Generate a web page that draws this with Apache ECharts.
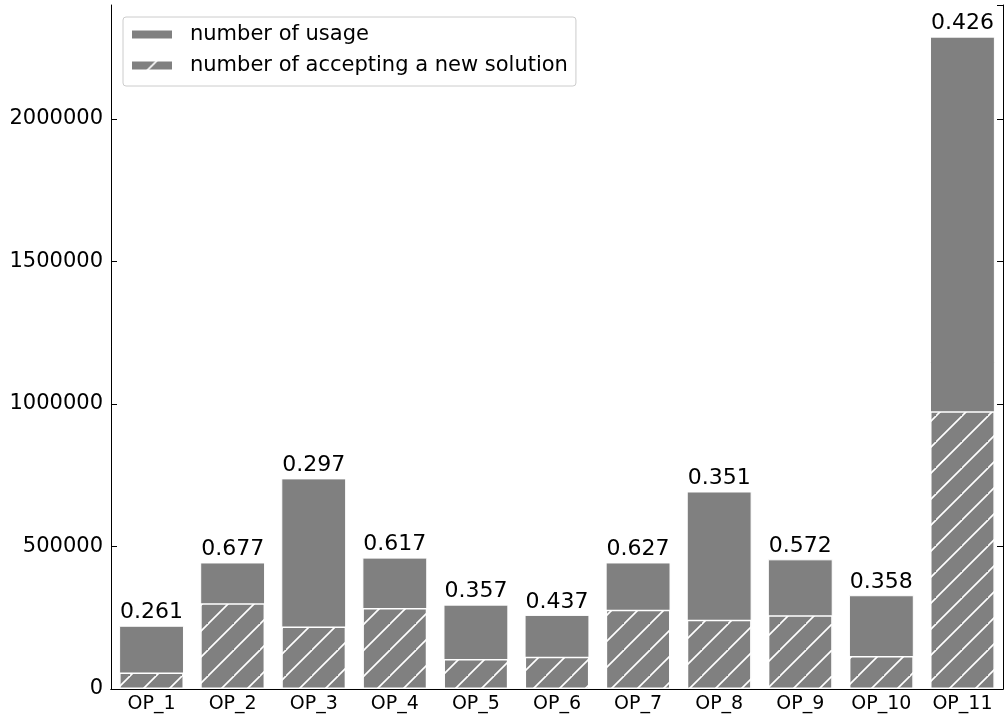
<!DOCTYPE html>
<html>
<head>
<meta charset="utf-8">
<script src="https://cdn.jsdelivr.net/npm/echarts@6/dist/echarts.min.js"></script>
<style>
html,body{margin:0;padding:0;background:#fff;}
#chart{width:1004px;height:719px;}
</style>
</head>
<body>
<div id="chart"></div>
<script>
const categories = ['OP_1','OP_2','OP_3','OP_4','OP_5','OP_6','OP_7','OP_8','OP_9','OP_10','OP_11'];
const usage = [222000, 444000, 739000, 461000, 296000, 260000, 444000, 693000, 455000, 329000, 2289000];
const accepted = [58000, 300600, 219000, 284000, 105600, 113000, 278500, 243000, 259000, 116000, 975000];
const ratioLabels = ['0.261','0.677','0.297','0.617','0.357','0.437','0.627','0.351','0.572','0.358','0.426'];

function hatch() {
  const s = 26;
  const c = document.createElement('canvas');
  c.width = s; c.height = s;
  const g = c.getContext('2d');
  g.fillStyle = '#808080';
  g.fillRect(0, 0, s, s);
  g.strokeStyle = '#ffffff';
  g.lineWidth = 1.6;
  g.beginPath();
  g.moveTo(-2, s + 2); g.lineTo(s + 2, -2);
  g.moveTo(-s - 2, s + 2); g.lineTo(2, -2);
  g.moveTo(s - 2, 2 * s + 2); g.lineTo(2 * s + 2, s - 2);
  g.stroke();
  return c;
}

const chart = echarts.init(document.getElementById('chart'));
const font = 'DejaVu Sans';
chart.setOption({
  animation: false,
  textStyle: { fontFamily: font },
  grid: { left: 111, right: 1, top: 5, bottom: 30, containLabel: false },
  legend: {
    left: 123, top: 17,
    orient: 'vertical',
    itemWidth: 42, itemHeight: 10,
    itemGap: 10,
    padding: [7, 8, 10, 7],
    borderColor: '#cccccc', borderWidth: 1, borderRadius: 3,
    backgroundColor: '#ffffff',
    textStyle: { fontFamily: font, fontSize: 21, color: '#000', padding: [0, 0, 0, 12] },
    data: [
      { name: 'number of usage', icon: 'rect' },
      { name: 'number of accepting a new solution', icon: 'rect' }
    ]
  },
  xAxis: [{
    type: 'category', data: categories, z: 10,
    axisLine: { lineStyle: { color: '#000', width: 1 } },
    axisTick: { inside: true, alignWithLabel: true, length: 6, lineStyle: { color: '#000' } },
    axisLabel: { fontFamily: font, fontSize: 19, color: '#000', margin: 6 }
  }, {
    type: 'category', data: categories, position: 'top', z: 10,
    axisLine: { show: true, lineStyle: { color: '#000', width: 1 } },
    axisTick: { inside: true, alignWithLabel: true, length: 6, lineStyle: { color: '#000' } },
    axisLabel: { show: false }
  }],
  yAxis: [{
    type: 'value', min: 0, max: 2400000, interval: 500000, z: 10,
    axisLine: { show: true, lineStyle: { color: '#000', width: 1 } },
    axisTick: { show: true, inside: true, length: 6, lineStyle: { color: '#000' } },
    splitLine: { show: false },
    axisLabel: { fontFamily: font, fontSize: 21, color: '#000', margin: 8, showMaxLabel: false,
      formatter: v => String(v) }
  }, {
    type: 'value', min: 0, max: 2400000, interval: 500000, position: 'right', z: 10,
    axisLine: { show: true, lineStyle: { color: '#000', width: 1 } },
    axisTick: { show: true, inside: true, length: 6, lineStyle: { color: '#000' } },
    splitLine: { show: false },
    axisLabel: { show: false }
  }],
  series: [{
    name: 'number of usage', type: 'bar', data: usage,
    barWidth: '80%', barGap: '-100%',
    itemStyle: { color: '#808080', borderColor: '#ffffff', borderWidth: 1 },
    label: {
      show: true, position: 'top', distance: 2,
      fontFamily: font, fontSize: 22, color: '#000',
      formatter: p => ratioLabels[p.dataIndex]
    }
  }, {
    name: 'number of accepting a new solution', type: 'bar', data: accepted,
    barWidth: '80%', barGap: '-100%',
    itemStyle: { color: { image: hatch(), repeat: 'repeat' }, borderColor: '#ffffff', borderWidth: 1.5 }
  }]
});
</script>
</body>
</html>
